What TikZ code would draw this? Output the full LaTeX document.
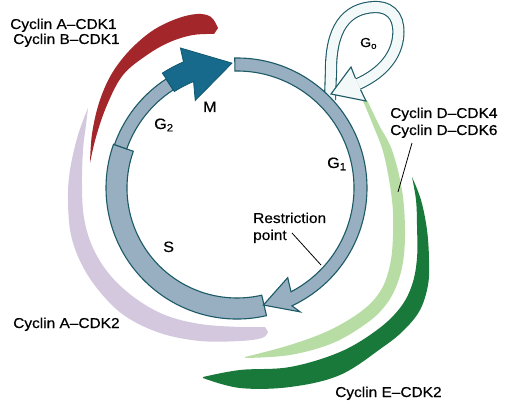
\documentclass[tikz,border=0pt]{standalone}
\usepackage{fontspec}
\setmainfont{Liberation Sans}[FakeStretch=1.08, FakeBold=0.5]
\definecolor{ringfill}{HTML}{97AFC0}
\definecolor{ringline}{HTML}{1C5A66}
\definecolor{mfill}{HTML}{176A8C}
\definecolor{mline}{HTML}{105870}
\definecolor{cycred}{HTML}{A3262A}
\definecolor{cyclav}{HTML}{D4C8DE}
\definecolor{cyclgreen}{HTML}{B7DDA5}
\definecolor{cycdgreen}{HTML}{19793A}
\definecolor{gzero}{HTML}{F3F8F8}
\tikzset{
  ringseg/.style={fill=ringfill, draw=ringline, line width=1.1pt, line join=miter},
  mseg/.style={fill=mfill, draw=mline, line width=0.8pt, line join=miter},
  lbl/.style={anchor=base west, inner sep=0pt, font=\fontsize{14.3}{16}\selectfont},
  phase/.style={anchor=base west, inner sep=0pt, font=\fontsize{15}{17}\selectfont},
  leader/.style={draw=black, line width=0.8pt},
}
\begin{document}
\begin{tikzpicture}[x=1pt,y=-1pt]
\useasboundingbox (0,0) rectangle (506,414);
\fill[white] (0,0) rectangle (506,414);

% cyclin bands
\fill[cycred] plot[smooth,tension=0.6] coordinates {(90,163) (92,134) (99,103) (111,75) (129,51) (152,31) (176,19) (197,14) (211,17) (218,28)}
  -- plot[smooth,tension=0.6] coordinates {(214,34) (193,35) (170,42) (147,55) (123,75) (107,105) (96,137) (90,163)} -- cycle;
\fill[cyclav] plot[smooth,tension=0.6] coordinates {(88,108) (78,135) (70,170) (68,200) (71,235) (82,265) (100,292) (125,316) (160,333) (200,341) (240,341) (262,338) (268,332)}
  -- plot[smooth,tension=0.6] coordinates {(265,327) (240,327) (200,324) (165,315) (135,298) (110,275) (93,248) (84,218) (82,185) (83,150) (86,125) (88,108)} -- cycle;
\fill[cyclgreen] plot[smooth,tension=0.6] coordinates {(367,100) (379,125) (392,150) (402,190) (405,230) (403,262) (396,287) (385,306) (367,323) (333,343) (290,355) (245,358)}
  -- plot[smooth,tension=0.6] coordinates {(245,357) (290,345) (330,330) (363,310) (381,290) (390,265) (393,235) (392,200) (384,155) (373,125) (363,101)} -- cycle;
\fill[cycdgreen] plot[smooth,tension=0.6] coordinates {(412,177) (421,200) (427,230) (429,260) (428,285) (420,310) (404,330) (383,347) (340,375) (290,387) (240,388) (203,378)}
  -- plot[smooth,tension=0.6] coordinates {(203,377) (240,370) (290,367) (340,352) (377,330) (400,308) (412,285) (417,258) (417,225) (416,200) (412,177)} -- cycle;

% G0 loop
\draw[ringline, line width=1.1pt, double=gzero, double distance=10pt]
  (330,100) -- (331,70) .. controls (331,30) and (345,8) .. (375,7)
  .. controls (395,7) and (400,22) .. (398,38)
  .. controls (395,60) and (378,75) .. (358,84);
\filldraw[fill=gzero, draw=ringline, line width=1.1pt, line join=miter]
  (355.5,78.4) -- (351,67) -- (331,94) -- (366,101) -- (360.5,89.6);

% cell-cycle ring
\begin{scope}[shift={(237,188)}]
  \filldraw[ringseg] (77:131) arc[start angle=77,end angle=199.5,radius=131]
    -- (199.5:110) arc[start angle=199.5,end angle=77,radius=110] -- cycle;
  \filldraw[ringseg] (199.5:130) arc[start angle=199.5,end angle=237,radius=130]
    -- (237:117) arc[start angle=237,end angle=199.5,radius=117] -- cycle;
  \filldraw[mseg] (237:137) arc[start angle=237,end angle=247,radius=137]
    -- (248:151) -- (267.7:125) -- (244.5:97) -- (247.8:115)
    arc[start angle=247.8,end angle=237,radius=115] -- cycle;
  \filldraw[ringseg] (-91:130) arc[start angle=-91,end angle=65,radius=130]
    -- (63:139) -- (77.3:120) -- (60.5:103) -- (62.5:117)
    arc[start angle=62.5,end angle=-91,radius=117] -- cycle;
\end{scope}

% labels
\node[lbl] (cab1) at (10,29) {Cyclin A–CDK1};
\node[lbl] (cbb1) at (13,44) {Cyclin B–CDK1};
\node[lbl] (cd4) at (390,118) {Cyclin D–CDK4};
\node[lbl] (cd6) at (390,135) {Cyclin D–CDK6};
\node[lbl] (ca2) at (13,328) {Cyclin A–CDK2};
\node[lbl] (ce2) at (335,397) {Cyclin E–CDK2};
\node[lbl] (rp1) at (253,223) {Restriction};
\node[lbl] (rp2) at (253,240) {point};
\node[phase] (g2) at (154,129) {G\textsubscript{2}};
\node[phase] (mm) at (203,112) {M};
\node[phase] (g1) at (327,168) {G\textsubscript{1}};
\node[phase] (ss) at (163,252) {S};
\node[phase, font=\fontsize{13}{15}\selectfont] (g0) at (360,47) {G\textsubscript{o}};

% leaders
\coordinate (cdA) at (412,143);
\coordinate (cdB) at (398,192);
\draw[leader] (cdA) -- (cdB);
\coordinate (rpA) at (292,233);
\coordinate (rpB) at (321,265);
\draw[leader] (rpA) -- (rpB);
\end{tikzpicture}
\end{document}
